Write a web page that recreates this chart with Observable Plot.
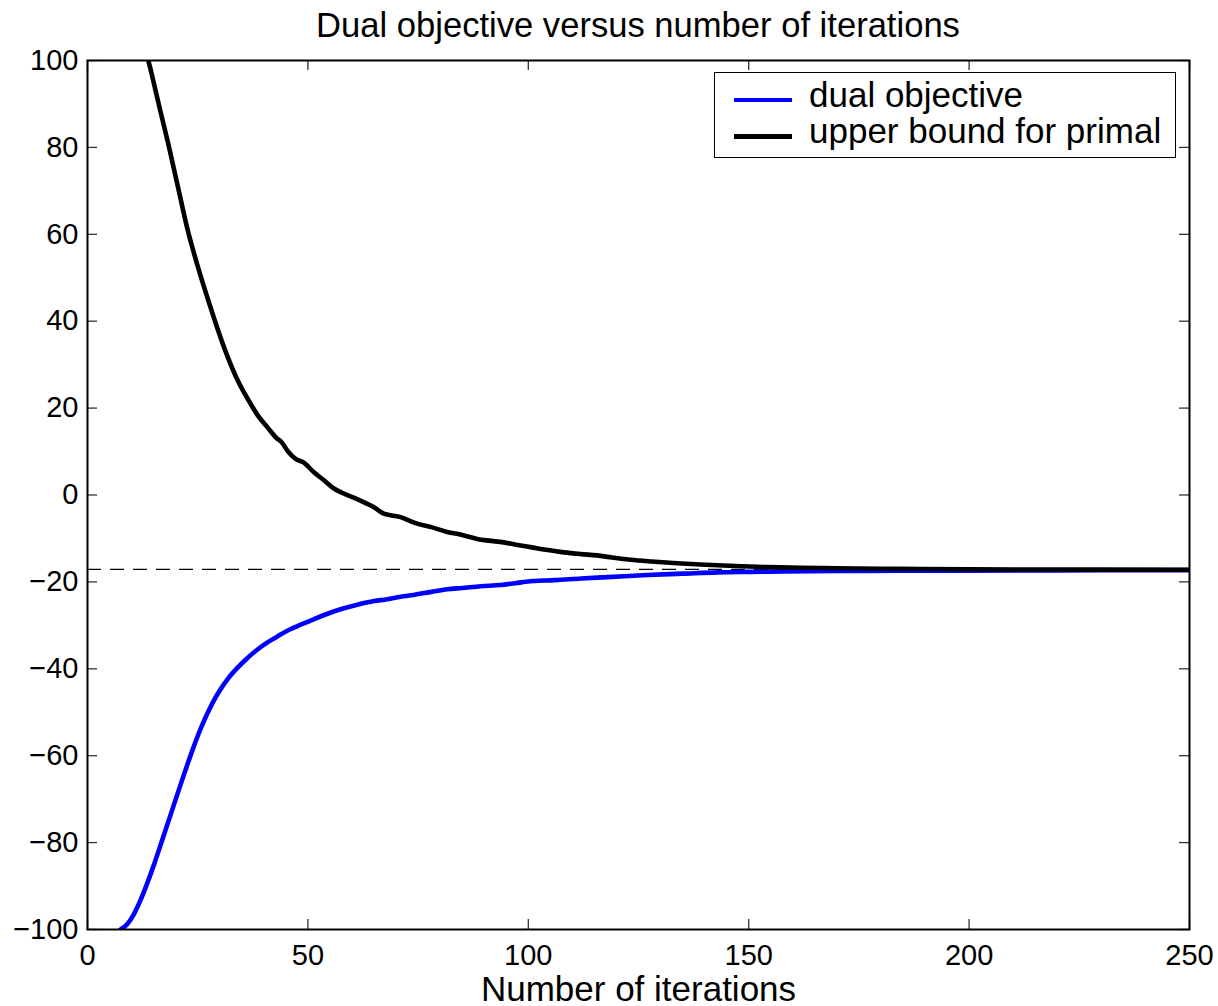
<!DOCTYPE html>
<html>
<head>
<meta charset="utf-8">
<script src="https://cdn.jsdelivr.net/npm/d3@7"></script>
<script src="https://cdn.jsdelivr.net/npm/@observablehq/plot@0.6"></script>
<style>
  html, body { margin: 0; padding: 0; background: #fff; }
  #wrap { position: relative; width: 1218px; height: 1006px; font-family: "Liberation Sans", Arial, Helvetica, sans-serif; color: #000; }
  #title { height: 42px; padding-top: 8px; padding-left: 87px; width: 1102px; font-size: 34.6px; line-height: 34px; text-align: center; white-space: nowrap; }
  #legend { position: absolute; left: 714px; top: 72px; width: 462px; height: 86px; border: 1.5px solid #000; box-sizing: border-box; background: #fff; }
  #legend .sw { position: absolute; left: 18.5px; width: 58px; height: 4.5px; }
  #legend .lb { position: absolute; left: 94px; font-size: 35px; line-height: 34px; white-space: nowrap; }
</style>
</head>
<body>
<div id="wrap">
  <div id="title">Dual objective versus number of iterations</div>
  <div id="chart"></div>
  <div id="legend"></div>
</div>
<script>
// ---- data ----
const dualIter = [7.5, 9, 10.5, 12, 13.5, 15, 16.5, 18, 19.5, 21, 22.5, 24, 25.5, 27, 28.5, 30, 32, 34, 36, 38.5, 41, 43.5, 46, 48.5, 51.3, 54, 57.4, 61, 65, 68, 71, 74, 78, 81.6, 85, 89.2, 93.7, 97, 101, 106, 112, 118, 127, 135, 143, 150, 158, 170, 184, 200, 220, 250];
const dualVal  = [-100, -98.8, -96.5, -93.3, -89.5, -85.3, -80.8, -76.2, -71.6, -67, -62.5, -58.2, -54.2, -50.7, -47.6, -45, -42.1, -39.8, -37.8, -35.6, -33.8, -32.3, -30.9, -29.8, -28.6, -27.5, -26.3, -25.3, -24.4, -24, -23.4, -23, -22.3, -21.7, -21.4, -21.0, -20.7, -20.3, -19.8, -19.6, -19.2, -18.9, -18.4, -18.1, -17.8, -17.7, -17.6, -17.5, -17.45, -17.4, -17.35, -17.3];

const upperIter = [13.8, 14.3, 15.0, 16.5, 18.4, 20.5, 22.6, 24.9, 27.9, 30.9, 33.6, 35.5, 37, 38.5, 40.8, 43, 44, 45.5, 47.2, 49, 51.3, 53.5, 55.9, 58, 60.4, 63, 65, 67.2, 69, 71, 73, 74.8, 78, 81.6, 85, 88.4, 91, 94.4, 97.5, 100.5, 104, 108.1, 112, 115.6, 119, 123.2, 128, 133.8, 139, 146, 154, 162, 170, 184, 200, 220, 250];
const upperVal  = [100, 98, 95, 88.5, 80.5, 71, 61.5, 53, 43.2, 34.2, 27.4, 23.6, 21, 18.5, 15.6, 13, 12.2, 10, 8.3, 7.5, 5.3, 3.5, 1.5, 0.4, -0.6, -1.8, -2.8, -4.3, -4.7, -5.1, -5.9, -6.6, -7.4, -8.5, -9.2, -10.1, -10.5, -10.9, -11.5, -12.0, -12.6, -13.2, -13.6, -13.9, -14.4, -14.9, -15.3, -15.7, -16.0, -16.3, -16.6, -16.75, -16.85, -17.0, -17.1, -17.15, -17.2];

const optimumLevel = -17.1;
const xTicks = [0, 50, 100, 150, 200, 250];
const yTicks = [-100, -80, -60, -40, -20, 0, 20, 40, 60, 80, 100];
const seriesNames = ["dual objective", "upper bound for primal"];
const seriesColors = ["#0000ff", "#000000"];

// ---- build tables ----
const dual = dualIter.map((x, i) => ({iter: x, value: dualVal[i]}));
const upper = upperIter.map((x, i) => ({iter: x, value: upperVal[i]}));

const W = 1218, H = 956, mL = 87, mR = 29, mT = 10, mB = 77;
const pw = W - mL - mR, ph = H - mT - mB, tickLen = 10;

const chart = Plot.plot({
  width: W, height: H,
  marginLeft: mL, marginRight: mR, marginTop: mT, marginBottom: mB,
  x: {domain: [0, 250]},
  y: {domain: [-100, 100]},
  style: {fontFamily: '"Liberation Sans", Arial, Helvetica, sans-serif', fontSize: "29px", color: "black", background: "white", overflow: "visible"},
  marks: [
    Plot.ruleY([optimumLevel], {stroke: "black", strokeWidth: 1.3, strokeDasharray: "14,9"}),
    Plot.line(dual, {x: "iter", y: "value", stroke: seriesColors[0], strokeWidth: 4.6, curve: "monotone-x", clip: true}),
    Plot.line(upper, {x: "iter", y: "value", stroke: seriesColors[1], strokeWidth: 4.6, curve: "monotone-x", clip: true}),
    Plot.tickY(yTicks, {y: d => d, insetRight: pw - tickLen, stroke: "#333", strokeWidth: 1.3}),
    Plot.tickY(yTicks, {y: d => d, insetLeft: pw - tickLen, stroke: "#333", strokeWidth: 1.3}),
    Plot.tickX(xTicks, {x: d => d, insetTop: ph - tickLen, stroke: "#333", strokeWidth: 1.3}),
    Plot.tickX(xTicks, {x: d => d, insetBottom: ph - tickLen, stroke: "#333", strokeWidth: 1.3}),
    Plot.axisX({ticks: xTicks, tickSize: 0, tickPadding: 15, label: null, fontSize: 29}),
    Plot.axisY({ticks: yTicks, tickSize: 0, tickPadding: 9, label: null, fontSize: 29}),
    Plot.frame({stroke: "black", strokeWidth: 2}),
    Plot.text(["Number of iterations"], {frameAnchor: "bottom", lineAnchor: "bottom", dy: 71, fontSize: 35, fill: "black"})
  ]
});
document.getElementById("chart").appendChild(chart);

// ---- legend ----
const legend = document.getElementById("legend");
const rows = [{swTop: 24.5, lbTop: 5}, {swTop: 61, lbTop: 40.5}];
seriesNames.forEach((name, i) => {
  const sw = document.createElement("div");
  sw.className = "sw";
  sw.style.top = rows[i].swTop + "px";
  sw.style.background = seriesColors[i];
  legend.appendChild(sw);
  const lb = document.createElement("div");
  lb.className = "lb";
  lb.style.top = rows[i].lbTop + "px";
  lb.textContent = name;
  legend.appendChild(lb);
});
</script>
</body>
</html>
